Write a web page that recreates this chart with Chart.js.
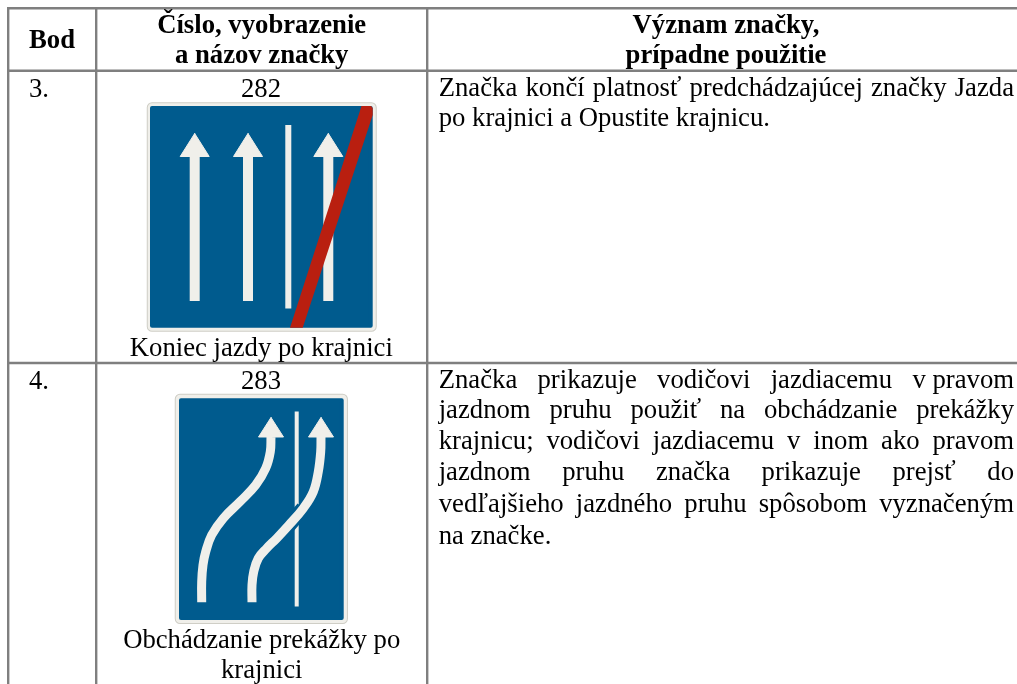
<!DOCTYPE html>
<html lang="sk">
<head>
<meta charset="utf-8">
<title>Značky</title>
<script src="https://cdn.jsdelivr.net/npm/chart.js@4/dist/chart.umd.js"></script>
<style>
  html, body { margin: 0; padding: 0; background: #fff; overflow: hidden; }
  canvas { display: block; filter: blur(0.35px); }
</style>
</head>
<body>
<canvas id="tabulka" width="1017" height="684"></canvas>
<script>
// table text
const headBod = ["Bod"];
const headCislo = ["Číslo, vyobrazenie", "a názov značky"];
const headVyznam = ["Význam značky,", "prípadne použitie"];
const rowBody = ["3.", "4."];
const signNumbers = ["282", "283"];
const signName282 = ["Koniec jazdy po krajnici"];
const signName283 = ["Obchádzanie prekážky po", "krajnici"];
const meaning282 = [
    "Značka končí platnosť predchádzajúcej značky Jazda",
    "po krajnici a Opustite krajnicu."
];
const meaning283 = [
    "Značka prikazuje vodičovi jazdiacemu v\u00a0pravom",
    "jazdnom pruhu použiť na obchádzanie prekážky",
    "krajnicu; vodičovi jazdiacemu v inom ako pravom",
    "jazdnom pruhu značka prikazuje prejsť do",
    "vedľajšieho jazdného pruhu spôsobom vyznačeným",
    "na značke."
];

// table rules
const gridLines = [
    [[7, 8.3], [1017, 8.3]],
    [[7, 70.7], [1017, 70.7]],
    [[7, 363], [1017, 363]],
    [[8.2, 7], [8.2, 684]],
    [[96.2, 7], [96.2, 684]],
    [[427.2, 7], [427.2, 684]]
];

// sign 282
const plate282 = [[152, 107.5], [371.5, 107.5], [371.5, 326.5], [152, 326.5], [152, 107.5]];
const blue282 = [[152, 108], [370.7, 108], [370.7, 325.7], [152, 325.7], [152, 108]];
const shafts282 = [
    [[194.7, 150], [194.7, 301]],
    [[248, 150], [248, 301]],
    [[328.3, 150], [328.3, 301]]
];
const heads282 = [
    [[194.7, 133.5], [209.2, 156.5], [180.2, 156.5], [194.7, 133.5]],
    [[248, 133.5], [262.5, 156.5], [233.5, 156.5], [248, 133.5]],
    [[328.3, 133.5], [342.8, 156.5], [313.8, 156.5], [328.3, 133.5]]
];
const divider282 = [[288.3, 125], [288.3, 308.5]];
const slash282 = [[361.5, 106], [371, 106], [372.7, 108], [372.7, 115], [302.7, 327.7], [290, 327.7], [361.5, 106]];

// sign 283
const plate283 = [[180, 399], [342.7, 399], [342.7, 618.7], [180, 618.7], [180, 399]];
const blue283 = [[181, 400.3], [341.7, 400.3], [341.7, 618], [181, 618], [181, 400.3]];
const divider283 = [[296.7, 411.5], [296.7, 606.5]];
const curveLeft = [
    [201.7, 602.3], [201.7, 581.7], [203, 565], [205.7, 551.7], [211.7, 535],
    [223.3, 518.3], [240, 501.7], [255.7, 485], [265.7, 468.3], [270.3, 451.7], [271, 437]
];
const curveRight = [
    [252, 602.3], [252, 585], [253.7, 571.7], [258.3, 558.3], [266.7, 548.3], [276.7, 538.3],
    [289, 525], [303.3, 508.3], [313.3, 491.7], [318.3, 471.7], [320.7, 451.7], [321, 437]
];
const curveGap = [[276.7, 538.3], [289, 525], [303.3, 508.3]];
const heads283 = [
    [[271, 417.5], [283.5, 437], [258.5, 437], [271, 417.5]],
    [[321, 417.5], [333.5, 437], [308.5, 437], [321, 417.5]]
];

const BLUE = '#005b8e';
const WHITE = '#f0efea';
const RED = '#b91f10';
const EDGE = '#cfcec6';
const GRID = '#7f7f7f';

function pts(list) {
    return list.map(p => ({ x: p[0], y: p[1] }));
}
function stroke(list, color, width, extra) {
    return Object.assign({
        data: pts(list), borderColor: color, borderWidth: width, pointRadius: 0, fill: false
    }, extra || {});
}
function shape(list, color, border, width, extra) {
    return Object.assign({
        data: pts(list), borderColor: border || color, borderWidth: width || 0,
        backgroundColor: color, pointRadius: 0, fill: 'shape'
    }, extra || {});
}
const rounded = { borderJoinStyle: 'round', borderCapStyle: 'round' };

// listed in paint order, see the order field below
const paint = [];
gridLines.forEach(l => paint.push(stroke(l, GRID, 2.4)));

paint.push(shape(plate282, WHITE, EDGE, 10.5, rounded));
paint.push(shape(plate282, WHITE, WHITE, 8.5, rounded));
paint.push(shape(blue282, BLUE, BLUE, 4, rounded));
shafts282.forEach(l => paint.push(stroke(l, WHITE, 10)));
heads282.forEach(l => paint.push(shape(l, WHITE, WHITE, 1, rounded)));
paint.push(stroke(divider282, WHITE, 6));
paint.push(shape(slash282, RED));

paint.push(shape(plate283, WHITE, EDGE, 10.5, rounded));
paint.push(shape(plate283, WHITE, WHITE, 8.5, rounded));
paint.push(shape(blue283, BLUE, BLUE, 4, rounded));
paint.push(stroke(divider283, WHITE, 4));
paint.push(stroke(curveGap, BLUE, 15));
paint.push(stroke(curveLeft, WHITE, 9, { tension: 0.4 }));
paint.push(stroke(curveRight, WHITE, 9, { tension: 0.4 }));
heads283.forEach(l => paint.push(shape(l, WHITE, WHITE, 1, rounded)));

paint.forEach((d, i) => { d.order = paint.length - i; });

// text drawn on the canvas, x/y go through the same scales as the marks
const SERIF = '"Liberation Serif", "Times New Roman", serif';
const BODY = '26.7px ' + SERIF;
const BOLD = 'bold 26.7px ' + SERIF;

function centered(ctx, sx, sy, lines, x, ys, font) {
    ctx.font = font;
    ctx.textAlign = 'center';
    lines.forEach((t, i) => ctx.fillText(t, sx.getPixelForValue(x), sy.getPixelForValue(ys[i])));
}
function justified(ctx, sx, sy, lines, x0, x1, ys) {
    ctx.font = BODY;
    ctx.textAlign = 'left';
    lines.forEach((t, i) => {
        const y = sy.getPixelForValue(ys[i]);
        const left = sx.getPixelForValue(x0);
        if (i === lines.length - 1) {
            ctx.fillText(t, left, y);
            return;
        }
        const words = t.split(' ');
        const used = words.reduce((a, w) => a + ctx.measureText(w).width, 0);
        const gap = (sx.getPixelForValue(x1) - left - used) / (words.length - 1);
        let px = left;
        words.forEach(w => {
            ctx.fillText(w, px, y);
            px += ctx.measureText(w).width + gap;
        });
    });
}

const tableText = {
    id: 'tableText',
    afterDatasetsDraw(chart) {
        const { ctx, scales } = chart;
        const sx = scales.x, sy = scales.y;
        ctx.save();
        ctx.fillStyle = '#000';
        ctx.textBaseline = 'alphabetic';
        centered(ctx, sx, sy, headBod, 52, [48.3], BOLD);
        centered(ctx, sx, sy, headCislo, 261.7, [32.7, 63.3], BOLD);
        centered(ctx, sx, sy, headVyznam, 726, [32.7, 63.3], BOLD);
        centered(ctx, sx, sy, [rowBody[0]], 39, [96.5], BODY);
        centered(ctx, sx, sy, [signNumbers[0]], 261, [96.5], BODY);
        centered(ctx, sx, sy, signName282, 261.3, [355.7], BODY);
        centered(ctx, sx, sy, [rowBody[1]], 39, [389], BODY);
        centered(ctx, sx, sy, [signNumbers[1]], 261, [389], BODY);
        centered(ctx, sx, sy, signName283, 261.7, [648.3, 678.3], BODY);
        justified(ctx, sx, sy, meaning282, 438.7, 1014, [95.5, 126]);
        justified(ctx, sx, sy, meaning283, 438.7, 1014, [388, 418, 449, 480, 512, 543.5]);
        ctx.restore();
    }
};

new Chart(document.getElementById('tabulka').getContext('2d'), {
    type: 'line',
    data: { datasets: paint },
    plugins: [tableText],
    options: {
        responsive: false,
        animation: false,
        events: [],
        layout: { padding: 0 },
        plugins: { legend: { display: false }, tooltip: { enabled: false } },
        scales: {
            x: { type: 'linear', min: 0, max: 1017, display: false },
            y: { type: 'linear', min: 0, max: 684, reverse: true, display: false }
        }
    }
});
</script>
</body>
</html>
